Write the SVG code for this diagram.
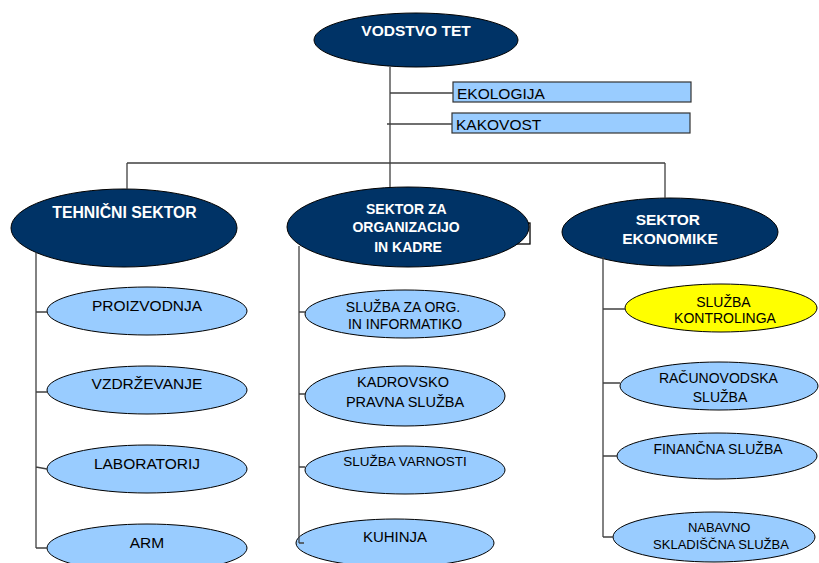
<svg xmlns="http://www.w3.org/2000/svg" width="819" height="563" viewBox="0 0 819 563">
  <style>
    .lead { fill: #003366; stroke: #000; stroke-width: 1; }
    .unit { fill: #99CCFF; stroke: #000; stroke-width: 1; }
    .ctrl { fill: #FFFF00; stroke: #000; stroke-width: 1; }
    .box  { fill: #99CCFF; stroke: #333; stroke-width: 1.2; }
    .hw   { font-family: "Liberation Sans", Arial, sans-serif; font-weight: bold; fill: #fff; text-anchor: middle; }
    .tx   { font-family: "Liberation Sans", Arial, sans-serif; fill: #000; text-anchor: middle; }
    .conn { fill: none; stroke: #404040; stroke-width: 1.3; }
  </style>

  <rect width="819" height="563" fill="#fff"/>

  <!-- top management -->
  <g id="vodstvo">
    <ellipse class="lead" cx="416" cy="40" rx="102" ry="27"/>
    <text class="hw" x="416" y="35.5" font-size="15.5">VODSTVO TET</text>
  </g>

  <!-- staff functions -->
  <g id="ekologija">
    <rect class="box" x="453" y="82" width="238" height="20"/>
    <text class="tx" x="457" y="98.5" font-size="15.5" style="text-anchor:start">EKOLOGIJA</text>
  </g>
  <g id="kakovost">
    <rect class="box" x="452" y="113" width="238" height="20"/>
    <text class="tx" x="456" y="129.5" font-size="15.5" style="text-anchor:start">KAKOVOST</text>
  </g>

  <!-- sectors -->
  <g id="tehnicni-sektor">
    <ellipse class="lead" cx="124" cy="228" rx="113" ry="39"/>
    <text class="hw" x="124.5" y="217.5" font-size="15.8">TEHNIČNI SEKTOR</text>
  </g>
  <g id="sektor-organizacija">
    <rect x="515" y="223" width="15" height="21" fill="#fff" stroke="#000" stroke-width="1.3"/>
    <ellipse class="lead" cx="408" cy="227" rx="121" ry="40"/>
    <text class="hw" font-size="14">
      <tspan x="408" y="214">SEKTOR ZA</tspan>
      <tspan x="408" y="232">ORGANIZACIJO</tspan>
      <tspan x="408" y="252">IN KADRE</tspan>
    </text>
  </g>
  <g id="sektor-ekonomike">
    <ellipse class="lead" cx="670" cy="232" rx="108" ry="34"/>
    <text class="hw" font-size="15.5">
      <tspan x="670" y="224.5">SEKTOR</tspan>
      <tspan x="670" y="243.5">EKONOMIKE</tspan>
    </text>
  </g>

  <!-- technical units -->
  <g id="proizvodnja">
    <ellipse class="unit" cx="147" cy="311" rx="100" ry="24"/>
    <text class="tx" x="147" y="310.5" font-size="15.5">PROIZVODNJA</text>
  </g>
  <g id="vzdrzevanje">
    <ellipse class="unit" cx="147" cy="390" rx="100" ry="24"/>
    <text class="tx" x="147" y="389" font-size="15.5">VZDRŽEVANJE</text>
  </g>
  <g id="laboratorij">
    <ellipse class="unit" cx="147" cy="469" rx="100" ry="24"/>
    <text class="tx" x="147" y="468.5" font-size="15.5">LABORATORIJ</text>
  </g>
  <g id="arm">
    <ellipse class="unit" cx="147" cy="548" rx="100" ry="24"/>
    <text class="tx" x="147" y="547.5" font-size="15.5">ARM</text>
  </g>

  <!-- organisation units -->
  <g id="sluzba-org">
    <ellipse class="unit" cx="405" cy="314" rx="100" ry="24"/>
    <text class="tx" font-size="14">
      <tspan x="405" y="312">SLUŽBA ZA ORG.</tspan>
      <tspan x="405" y="329">IN INFORMATIKO</tspan>
    </text>
  </g>
  <g id="kadrovsko">
    <ellipse class="unit" cx="405" cy="396" rx="100" ry="30"/>
    <text class="tx" font-size="14.5">
      <tspan x="405" y="387">KADROVSKO</tspan>
      <tspan x="405" y="407">PRAVNA SLUŽBA</tspan>
    </text>
  </g>
  <g id="varnost">
    <ellipse class="unit" cx="405" cy="470" rx="100" ry="24"/>
    <text class="tx" x="405" y="466" font-size="13.5">SLUŽBA VARNOSTI</text>
  </g>
  <g id="kuhinja">
    <ellipse class="unit" cx="395" cy="543" rx="99" ry="24"/>
    <text class="tx" x="395" y="541.5" font-size="15">KUHINJA</text>
  </g>

  <!-- economics units -->
  <g id="kontroling">
    <ellipse class="ctrl" cx="721" cy="308" rx="96" ry="24"/>
    <text class="tx" font-size="14">
      <tspan x="725" y="307">SLUŽBA</tspan>
      <tspan x="725" y="323">KONTROLINGA</tspan>
    </text>
  </g>
  <g id="racunovodstvo">
    <ellipse class="unit" cx="719" cy="386" rx="99" ry="24"/>
    <text class="tx" font-size="14">
      <tspan x="720" y="383">RAČUNOVODSKA</tspan>
      <tspan x="720" y="402">SLUŽBA</tspan>
    </text>
  </g>
  <g id="financna">
    <ellipse class="unit" cx="717" cy="456" rx="100" ry="23"/>
    <text class="tx" x="718" y="454" font-size="14">FINANČNA SLUŽBA</text>
  </g>
  <g id="nabava">
    <ellipse class="unit" cx="714" cy="537" rx="101" ry="25"/>
    <text class="tx" font-size="13">
      <tspan x="721" y="531.5">NABAVNO</tspan>
      <tspan x="721" y="548.5">SKLADIŠČNA SLUŽBA</tspan>
    </text>
  </g>

  <!-- connectors -->
  <g id="connectors" class="conn">
    <path d="M390 67 V163 M390 93 H453 M387 124 H452"/>
    <path d="M127 163 H665 M127 163 V189 M390 163 V187 M665 163 V198"/>
    <path d="M36 253 V548 M36 312 H47 M36 392 H47 M36 467 L47 469 M36 548 H47"/>
    <path d="M299 246 V543 M299 312 H305 M299 394 H305 M299 467 H305 M299 543 H304"/>
    <path d="M603 257 V537 M603 309 H625 M603 383 H620 M603 456 H617 M603 537 H613"/>
  </g>
</svg>
